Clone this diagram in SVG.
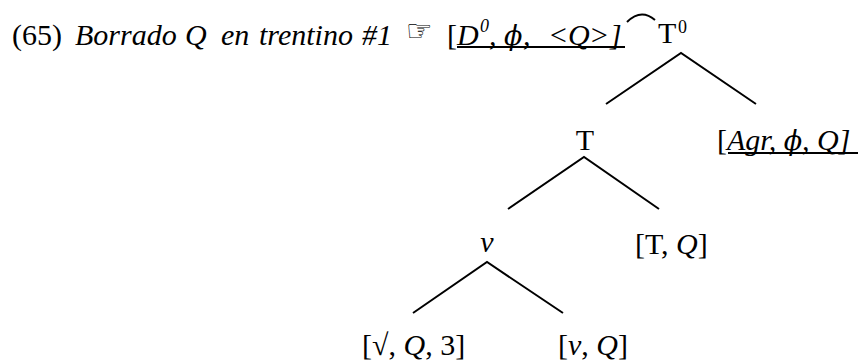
<svg xmlns="http://www.w3.org/2000/svg" width="860" height="363" viewBox="0 0 860 363">
<style>
text{font-family:"Liberation Serif","Times New Roman",serif;font-size:30px;fill:#000}
.i{font-style:italic}
.sup{font-size:18px}
.phi{font-family:"DejaVu Serif","Liberation Serif",serif;font-size:27px;font-style:italic}
.edge{stroke:#000;stroke-width:2;fill:none}
.ul{stroke:#000;stroke-width:2}
</style>
<rect width="860" height="363" fill="#fff"/>
<g id="title">
<text x="12" y="45">(65)</text>
<text x="75" y="45" class="i">Borrado</text>
<text x="185" y="45" class="i">Q</text>
<text x="221" y="45" class="i">en</text>
<text x="259" y="45" class="i">trentino</text>
<text x="362" y="45" class="i">#1</text>
<text x="406" y="41" style="font-family:'DejaVu Sans',sans-serif;font-size:30px">☞</text>
</g>
<g id="root">
<text x="447" y="45">[<tspan x="457" class="i">D</tspan><tspan x="480" y="32" class="i sup">0</tspan><tspan x="489" y="45" class="i">,</tspan><tspan x="504" class="phi">ϕ</tspan><tspan x="523" class="i">,</tspan><tspan x="548" class="i">&lt;</tspan><tspan x="568" class="i">Q</tspan><tspan x="589" class="i">&gt;</tspan><tspan x="610" class="i">]</tspan></text>
<line class="ul" x1="457" y1="47" x2="625" y2="47"/>
<path class="edge" d="M627,22 Q641,8 655,20"/>
<text x="658" y="43">T<tspan x="678" y="33" class="sup">0</tspan></text>
</g>
<g id="T">
<text x="585" y="150" text-anchor="middle">T</text>
</g>
<g id="Agr">
<text x="717" y="150">[<tspan class="i">Agr, <tspan class="phi">ϕ</tspan>, Q]</tspan></text>
<line class="ul" x1="728" y1="153" x2="858" y2="153"/>
</g>
<g id="v">
<text x="487" y="252" text-anchor="middle" class="i">v</text>
</g>
<g id="TQ">
<text x="635" y="254">[T, <tspan class="i">Q</tspan>]</text>
</g>
<g id="root3">
<text x="362" y="355">[√, <tspan class="i">Q</tspan>, 3]</text>
</g>
<g id="vQ">
<text x="558" y="355">[<tspan class="i">v</tspan>, <tspan class="i">Q</tspan>]</text>
</g>
<g id="connectors">
<path class="edge" d="M606,104 L681,53 L756,104"/>
<path class="edge" d="M508,209 L584,157 L659,209"/>
<path class="edge" d="M413,313 L487,262 L563,313"/>
</g>
</svg>
